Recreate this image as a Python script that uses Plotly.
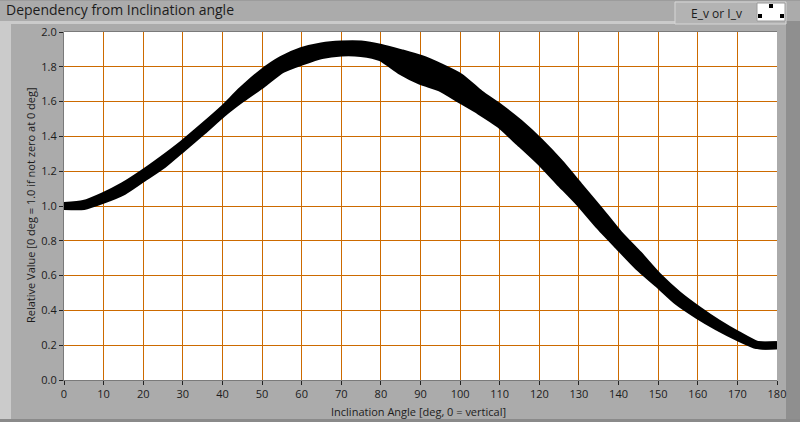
import plotly.graph_objects as go

# Inclination angle (deg)
angles = [0, 5, 10, 15, 20, 25, 30, 35, 40, 45, 50, 55, 60, 65, 70, 75, 80, 85,
          90, 95, 100, 105, 110, 115, 120, 125, 130, 135, 140, 145, 150, 155,
          160, 165, 170, 175, 180]
# Upper envelope of the measured curves
upper = [1.00, 1.012, 1.057, 1.115, 1.188, 1.269, 1.356, 1.452, 1.552, 1.665,
         1.764, 1.84, 1.89, 1.917, 1.928, 1.928, 1.909, 1.879,
         1.846, 1.798, 1.740, 1.644, 1.565, 1.475, 1.37, 1.25, 1.115, 0.98,
         0.84, 0.721, 0.594, 0.490, 0.404, 0.327, 0.260, 0.202, 0.199]
# Lower envelope of the measured curves
lower = [1.00, 1.00, 1.037, 1.085, 1.161, 1.238, 1.334, 1.431, 1.532, 1.62,
         1.700, 1.786, 1.83, 1.867, 1.882, 1.879, 1.854, 1.777,
         1.719, 1.680, 1.613, 1.546, 1.47, 1.366, 1.26, 1.14, 1.022, 0.89,
         0.77, 0.652, 0.553, 0.450, 0.373, 0.306, 0.248, 0.200, 0.199]

x_ticks = list(range(0, 181, 10))
y_ticks = [round(i * 0.2, 1) for i in range(11)]

W, H = 800, 422
L, R, T, B = 64, 23, 32, 42
PW, PH = W - L - R, H - T - B


def X(px):
    return (px - L) / PW


def Y(py):
    return (H - B - py) / PH


BG = "#ababab"
GRID = "#cc6a00"
TXT = "#1c1c1c"
FONT = "Segoe UI, Open Sans, DejaVu Sans, sans-serif"

fig = go.Figure()
fig.add_trace(go.Scatter(x=angles, y=upper, mode="lines",
                         line=dict(color="black", width=8, shape="spline", smoothing=0.6),
                         hoverinfo="skip", showlegend=False))
fig.add_trace(go.Scatter(x=angles, y=lower, mode="lines",
                         line=dict(color="black", width=8, shape="spline", smoothing=0.6),
                         fill="tonexty", fillcolor="black",
                         hoverinfo="skip", showlegend=False))


def rect(x0, y0, x1, y1, fill, line=None, layer="below"):
    return dict(type="rect", xref="paper", yref="paper",
                x0=X(x0), x1=X(x1), y0=Y(y1), y1=Y(y0),
                fillcolor=fill, line=line or dict(width=0), layer=layer)


shapes = [
    rect(0, 22, 11, 422, "#cbcbcb"),          # left light strip
    rect(0, 21, 786, 24, "#cbcbcb"),          # top light line
    rect(786, 21, 800, 422, "#8f8f8f"),       # right dark strip
    rect(0, 419, 800, 422, "#8a8a8a"),        # bottom dark line
    rect(0, 0, 800, 1, "#9c9c9c"),
    rect(675, 2, 786, 24, "#b3b3b3", dict(color="#d6d6d6", width=1)),   # legend panel
    rect(757, 3, 785, 21, "white", dict(color="#9a9a9a", width=1), "above"),
    rect(64, 31, 777, 32, "#7a7a7a", None, "above"),
]
for (cx, cy) in [(771, 6), (760, 16), (782, 16)]:
    shapes.append(rect(cx - 2, cy - 2, cx + 2, cy + 2, "black", None, "above"))

annotations = [
    dict(text="Dependency from Inclination angle", xref="paper", yref="paper",
         x=X(4), y=Y(10), xanchor="left", yanchor="middle", showarrow=False,
         font=dict(family=FONT, size=14, color=TXT)),
    dict(text="E_v or I_v", xref="paper", yref="paper",
         x=X(689), y=Y(13), xanchor="left", yanchor="middle", showarrow=False,
         font=dict(family=FONT, size=12, color=TXT)),
    dict(text="Inclination Angle [deg, 0 = vertical]", xref="paper", yref="paper",
         x=X(418), y=Y(411), xanchor="center", yanchor="middle", showarrow=False,
         font=dict(family=FONT, size=11, color=TXT)),
    dict(text="Relative Value [0 deg = 1.0 if not zero at 0 deg]", xref="paper", yref="paper",
         x=X(30), y=Y(205), xanchor="center", yanchor="middle", showarrow=False,
         textangle=-90, font=dict(family=FONT, size=11, color=TXT)),
]

fig.update_layout(
    width=W, height=H,
    margin=dict(l=L, r=R, t=T, b=B, autoexpand=False),
    paper_bgcolor=BG, plot_bgcolor="white",
    shapes=shapes, annotations=annotations,
    showlegend=False,
)
fig.update_xaxes(range=[0, 180], tickvals=x_ticks, ticktext=[str(t) for t in x_ticks],
                 showgrid=True, gridcolor=GRID, gridwidth=1, zeroline=False,
                 ticks="outside", ticklen=4, tickcolor="#222", tickwidth=1,
                 showline=True, linecolor="#7a7a7a", linewidth=1,
                 tickfont=dict(family=FONT, size=11, color=TXT), fixedrange=True)
fig.update_yaxes(range=[0, 2], tickvals=y_ticks, ticktext=[f"{t:.1f}" for t in y_ticks],
                 showgrid=True, gridcolor=GRID, gridwidth=1, zeroline=False,
                 ticks="outside", ticklen=4, tickcolor="#222", tickwidth=1,
                 showline=True, linecolor="#7a7a7a", linewidth=1,
                 tickfont=dict(family=FONT, size=11, color=TXT), fixedrange=True)

fig.write_html("out.html", config={"displayModeBar": False},
               post_script="document.body.style.margin='0';document.body.style.overflow='hidden';")
